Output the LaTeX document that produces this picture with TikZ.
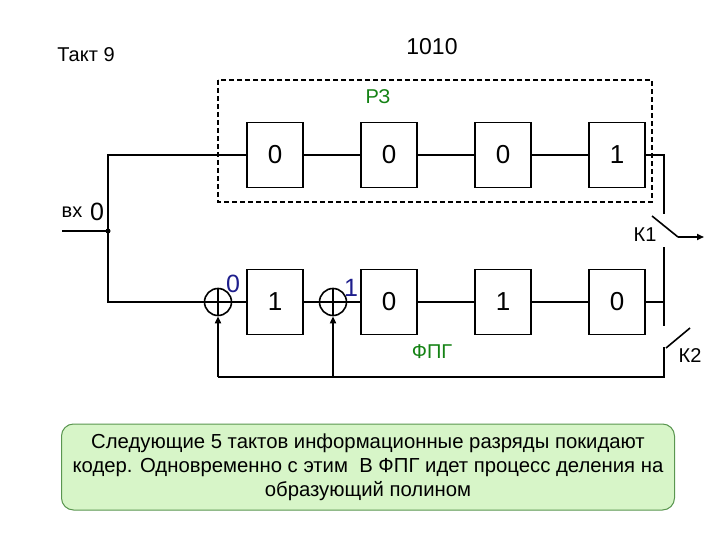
\documentclass[tikz,border=0pt]{standalone}
\usepackage{fontspec}
\setmainfont{Liberation Sans}
\usetikzlibrary{arrows.meta}
\definecolor{gtxt}{RGB}{20,130,20}
\definecolor{btxt}{RGB}{30,30,140}
\definecolor{capfill}{RGB}{215,245,200}
\definecolor{capdraw}{RGB}{90,150,80}
\begin{document}
\begin{tikzpicture}[x=1pt,y=-1pt,line width=1.6pt,
  reg/.style={draw,minimum width=56pt,minimum height=65pt,inner sep=0pt,font=\fontsize{26}{26}\selectfont},
  xr/.style={draw,circle,minimum size=27pt,inner sep=0pt},
  lbl/.style={font=\fontsize{20}{22}\selectfont},
  arr/.style={-{Triangle[length=7pt,width=6pt]}}]
\useasboundingbox (0,0) rectangle (720,540);
\node[lbl] (takt) at (86,55) {Такт 9};
\node[font=\fontsize{23}{24}\selectfont] (code) at (432,47) {1010};
\draw[dash pattern=on 5pt off 3pt,line width=1.3pt] (218,80) rectangle (652,202);
\node[lbl,text=gtxt] (rz) at (378,97) {РЗ};
\node[reg] (t1) at (275,155) {0};
\node[reg] (t2) at (389,155) {0};
\node[reg] (t3) at (503,155) {0};
\node[reg] (t4) at (617,155) {1};
\node[reg] (b1) at (275,302) {1};
\node[reg] (b2) at (389,302) {0};
\node[reg] (b3) at (503,302) {1};
\node[reg] (b4) at (617,302) {0};
\node[xr] (s1) at (218,302) {};
\node[xr] (s2) at (333,302) {};
\draw (s1.north)--(s1.south) (s1.west)--(s1.east) (s2.north)--(s2.south) (s2.west)--(s2.east);
\node[text=btxt,font=\fontsize{25}{25}\selectfont] (l0) at (233,284) {0};
\node[text=btxt,font=\fontsize{25}{25}\selectfont] (l1) at (351,288) {1};
\node[lbl] (vx) at (72,212) {вх};
\node[font=\fontsize{25}{25}\selectfont] (v0) at (97,212) {0};
\coordinate (in) at (62,231);
\coordinate (j) at (108,231);
\fill (j) circle (2.5pt);
\draw (in)--(j);
\draw (j)--(108,155)--(t1.west);
\draw (j)--(108,302)--(s1.west);
\draw (t1)--(t2) (t2)--(t3) (t3)--(t4);
\draw (s1)--(b1) (b1)--(s2) (s2)--(b2) (b2)--(b3) (b3)--(b4);
\coordinate (r1) at (664,155);
\draw (t4.east)--(r1)--(664,214);
\coordinate (k1a) at (652,216);
\coordinate (k1b) at (678,237);
\coordinate (k1c) at (704,237);
\draw (k1a)--(k1b);
\draw[arr] (k1b)--(k1c);
\node[lbl] (k1) at (645,235) {К1};
\coordinate (rv) at (664,302);
\draw (664,247)--(rv)--(664,326);
\draw (b4.east)--(rv);
\draw (666,348)--(690,328);
\node[lbl] (k2) at (690,356) {К2};
\coordinate (bot) at (664,377);
\draw (664,347)--(bot)--(218,377);
\draw[arr] (218,377)--(s1.south);
\draw[arr] (333,377)--(s2.south);
\node[lbl,text=gtxt] (fpg) at (432,352) {ФПГ};
\node[draw=capdraw,fill=capfill,rounded corners=12pt,line width=1pt,minimum width=613pt,minimum height=86pt,align=center,font=\fontsize{20.3}{24}\selectfont] (cap) at (368,467)
 {Следующие 5 тактов информационные разряды покидают\\кодер. Одновременно с этим~ В ФПГ идет процесс деления на\\образующий полином};
\end{tikzpicture}
\end{document}
